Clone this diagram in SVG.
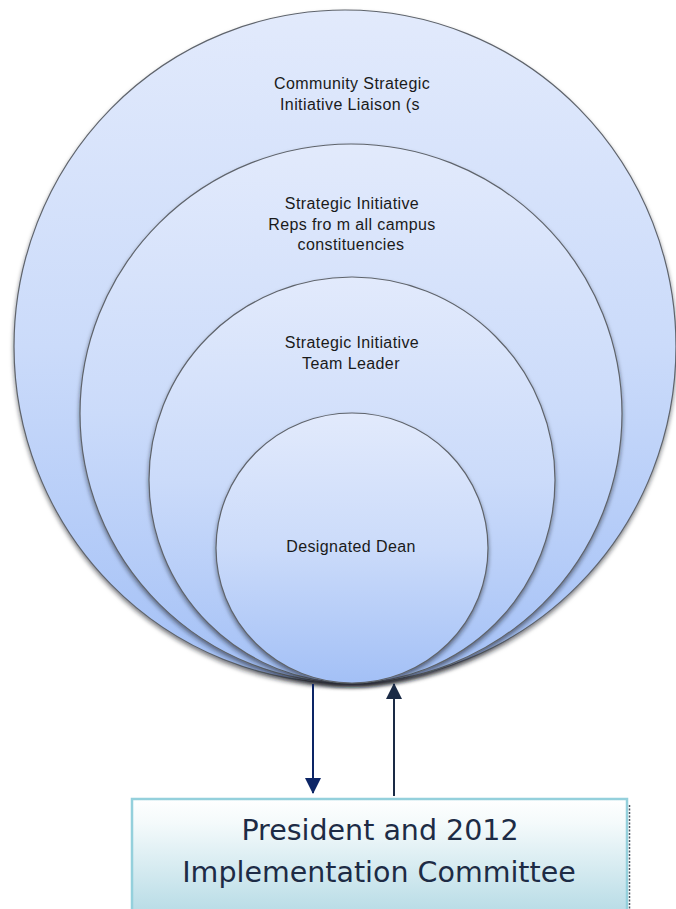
<svg xmlns="http://www.w3.org/2000/svg" width="676" height="909" viewBox="0 0 676 909">
<defs>
<style>
.ring{stroke:#5f646c;stroke-width:1.2;filter:url(#sh)}
.lbl{font-family:"Liberation Sans",Arial,sans-serif;font-size:16px;fill:#1a1a1a;text-anchor:middle;letter-spacing:0.4px}
.big{font-family:"DejaVu Sans","Liberation Sans",sans-serif;font-size:28.5px;fill:#1d2b45;text-anchor:middle}
.conn{fill:none;stroke-width:2}
</style>
<linearGradient id="blue" x1="0" y1="0" x2="0" y2="1">
<stop offset="0" stop-color="#e2eafc"/>
<stop offset="0.5" stop-color="#cbdbfa"/>
<stop offset="1" stop-color="#a3c0f6"/>
</linearGradient>
<linearGradient id="teal" x1="0" y1="0" x2="0" y2="1">
<stop offset="0" stop-color="#ffffff"/>
<stop offset="0.2" stop-color="#f4fafb"/>
<stop offset="1" stop-color="#b2d9e4"/>
</linearGradient>
<filter id="sh" x="-10%" y="-10%" width="120%" height="125%">
<feGaussianBlur in="SourceAlpha" stdDeviation="2"/>
<feOffset dy="2.5" result="b"/>
<feFlood flood-color="#1a1d24" flood-opacity="0.55"/>
<feComposite in2="b" operator="in" result="s"/>
<feMerge><feMergeNode in="s"/><feMergeNode in="SourceGraphic"/></feMerge>
</filter>
<marker id="ahDown" markerUnits="userSpaceOnUse" markerWidth="16" markerHeight="16" viewBox="0 0 16 16" refX="15" refY="8" orient="auto">
<path d="M0,0 L16,8 L0,16 Z" fill="#0c2566"/>
</marker>
<marker id="ahUp" markerUnits="userSpaceOnUse" markerWidth="16" markerHeight="16" viewBox="0 0 16 16" refX="15" refY="8" orient="auto">
<path d="M0,0 L16,8 L0,16 Z" fill="#1a2a45"/>
</marker>
</defs>
<rect width="676" height="909" fill="#ffffff"/>

<g id="node-community">
<ellipse class="ring" cx="345" cy="346.5" rx="331" ry="336.5" fill="url(#blue)"/>
<text class="lbl" x="352" y="89">Community Strategic</text>
<text class="lbl" x="350" y="110">Initiative Liaison (s</text>
</g>

<g id="node-reps">
<ellipse class="ring" cx="351" cy="413.5" rx="271" ry="269.5" fill="url(#blue)"/>
<text class="lbl" x="352" y="209">Strategic Initiative</text>
<text class="lbl" x="352" y="230">Reps fro m all campus</text>
<text class="lbl" x="351" y="250">constituencies</text>
</g>

<g id="node-leader">
<ellipse class="ring" cx="352" cy="480" rx="203" ry="203" fill="url(#blue)"/>
<text class="lbl" x="352" y="348">Strategic Initiative</text>
<text class="lbl" x="351" y="369">Team Leader</text>
</g>

<g id="node-dean">
<ellipse class="ring" cx="352" cy="548" rx="136" ry="135" fill="url(#blue)"/>
<text class="lbl" x="351" y="552">Designated Dean</text>
</g>

<g id="connectors">
<line class="conn" x1="313" y1="684" x2="313" y2="793" stroke="#0c2566" marker-end="url(#ahDown)"/>
<line class="conn" x1="394" y1="796" x2="394" y2="684" stroke="#1a2a45" marker-end="url(#ahUp)"/>
</g>

<g id="node-president">
<line x1="629.5" y1="805" x2="629.5" y2="909" stroke="#4a5560" stroke-width="1.5" stroke-dasharray="2 1.5"/>
<rect x="132" y="799" width="495" height="122" fill="url(#teal)" stroke="#94d0dc" stroke-width="2.5"/>
<text class="big" x="380" y="840">President and 2012</text>
<text class="big" x="379" y="882">Implementation Committee</text>
</g>
</svg>
